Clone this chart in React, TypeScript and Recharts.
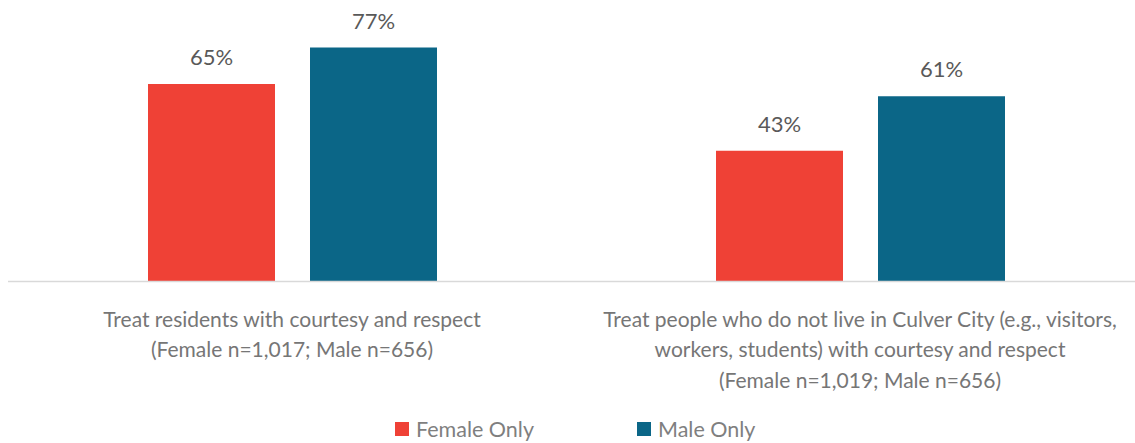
import React from 'react';
import { BarChart, Bar, XAxis, YAxis, LabelList, Legend } from 'recharts';

const categories = [
  ['Treat residents with courtesy and respect', '(Female n=1,017; Male n=656)'],
  [
    'Treat people who do not live in Culver City (e.g., visitors,',
    'workers, students) with courtesy and respect',
    '(Female n=1,019; Male n=656)',
  ],
];
const femaleOnly = [65, 43];
const maleOnly = [77, 61];

const FEMALE = '#EF4136';
const MALE = '#0B6687';
const FONT = 'Lato, sans-serif';

const data = categories.map((lines, i) => ({
  name: lines.join('\n'),
  female: femaleOnly[i],
  male: maleOnly[i],
}));

const CategoryTick = (props: any) => {
  const { x, y, payload } = props;
  const lines: string[] = String(payload.value).split('\n');
  return (
    <text x={x} y={y} textAnchor="middle" fill="#767676" fontSize={21} fontFamily={FONT}>
      {lines.map((l, i) => (
        <tspan key={i} x={x} dy={i === 0 ? 37 : 30.5}>
          {l}
        </tspan>
      ))}
    </text>
  );
};

const LegendContent = () => (
  <div style={{ display: 'flex', paddingLeft: 395, fontFamily: FONT, fontSize: 21.5, color: '#7F7F7F' }}>
    {[
      { label: 'Female Only', color: FEMALE },
      { label: 'Male Only', color: MALE },
    ].map((item) => (
      <div key={item.label} style={{ display: 'flex', alignItems: 'center', width: 242 }}>
        <span style={{ width: 14, height: 14, background: item.color, marginRight: 7, display: 'inline-block' }} />
        <span>{item.label}</span>
      </div>
    ))}
  </div>
);

const valueLabel = (v: any) => `${v}%`;

export default function App() {
  return (
    <div style={{ width: 1135, height: 443, overflow: 'hidden', background: '#fff' }}>
      <style>{'body{margin:0}'}</style>
      <BarChart
        width={1145}
        height={443}
        data={data}
        margin={{ top: 8, right: 1, left: 8, bottom: 61.5 }}
        barGap={35}
        barCategoryGap={139.5}
      >
        <XAxis
          dataKey="name"
          height={100}
          axisLine={{ stroke: '#D9D9D9', strokeWidth: 1.5 }}
          tickLine={false}
          tick={<CategoryTick />}
          interval={0}
        />
        <YAxis hide domain={[0, 90]} />
        <Legend
          layout="horizontal"
          verticalAlign="middle"
          align="center"
          wrapperStyle={{ top: 416, left: 0, width: 1135 }}
          content={<LegendContent />}
        />
        <Bar dataKey="female" name="Female Only" fill={FEMALE} barSize={127} isAnimationActive={false}>
          <LabelList dataKey="female" position="top" offset={19} formatter={valueLabel} fill="#595959" fontSize={22} fontFamily={FONT} />
        </Bar>
        <Bar dataKey="male" name="Male Only" fill={MALE} barSize={127} isAnimationActive={false}>
          <LabelList dataKey="male" position="top" offset={19} formatter={valueLabel} fill="#595959" fontSize={22} fontFamily={FONT} />
        </Bar>
      </BarChart>
    </div>
  );
}
